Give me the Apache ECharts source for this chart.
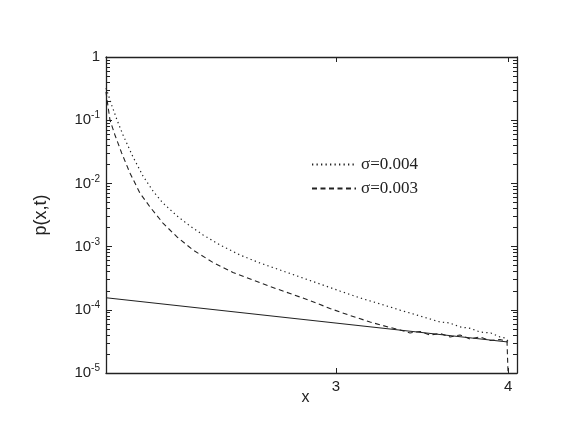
<!DOCTYPE html>
<html>
<head>
<meta charset="utf-8">
<script src="https://cdn.jsdelivr.net/npm/echarts@6/dist/echarts.min.js"></script>
<style>
  body { margin: 0; background: #fff; }
  #chart { width: 581px; height: 441px; }
</style>
</head>
<body>
<div id="chart"></div>
<script>
// sigma = 0.004 (dotted)
let dotX = [1.663, 1.698, 1.727, 1.762, 1.820, 1.878, 1.936, 1.994, 2.076, 2.151, 2.227, 2.326, 2.442, 2.558, 2.674, 2.791, 2.907, 3.023, 3.140, 3.256, 3.372, 3.488, 3.605, 3.66, 3.721, 3.78, 3.837, 3.90, 3.953, 3.98, 4.0]
let dotY = [0.323, 0.168, 0.1007, 0.0583, 0.0262, 0.0131, 0.00759, 0.00490, 0.00305, 0.00212, 0.00153, 0.00106, 7.36e-4, 5.5e-4, 4.27e-4, 3.30e-4, 2.56e-4, 1.98e-4, 1.54e-4, 1.24e-4, 9.9e-5, 7.98e-5, 6.41e-5, 6.2e-5, 5.35e-5, 5.1e-5, 4.45e-5, 4.3e-5, 3.71e-5, 3.6e-5, 3.21e-5]

// sigma = 0.003 (dashed)
let dashX = [1.663, 1.686, 1.715, 1.754, 1.802, 1.860, 1.919, 1.994, 2.076, 2.169, 2.285, 2.401, 2.517, 2.616, 2.733, 2.849, 2.965, 3.081, 3.198, 3.314, 3.372, 3.430, 3.488, 3.547, 3.605, 3.663, 3.721, 3.779, 3.837, 3.895, 3.953, 3.994, 4.0]
let dashY = [0.28, 0.1007, 0.0583, 0.0303, 0.0146, 0.00705, 0.00423, 0.00236, 0.00142, 8.83e-4, 5.6e-4, 3.9e-4, 2.95e-4, 2.34e-4, 1.81e-4, 1.40e-4, 1.05e-4, 8.13e-5, 6.41e-5, 5.25e-5, 4.79e-5, 4.30e-5, 4.54e-5, 3.99e-5, 4.22e-5, 3.72e-5, 3.99e-5, 3.45e-5, 3.72e-5, 3.27e-5, 3.39e-5, 3.15e-5, 1e-5]

// straight reference line
let solidX = [1.663, 4.0]
let solidY = [1.55e-4, 3.1e-5]

let xTicks = [3, 4]
let yMajor = [1e-5, 1e-4, 1e-3, 1e-2, 1e-1, 1]
let yMinor = []
for (let d = -5; d < 0; d++) {
  for (let m = 2; m <= 9; m++) {
    yMinor.push(m * Math.pow(10, d))
  }
}

function pairs(xs, ys) {
  return xs.map((x, i) => [x, ys[i]])
}

let ink = '#222'
let font = 'Liberation Sans'
let axisLine = { show: true, onZero: false, lineStyle: { color: ink, width: 1.3 } }
let noLabel = { show: true, formatter: () => '' }

// main log axis (frame + decade ticks)
function yMain(pos, labels) {
  return {
    type: 'log', logBase: 10, min: 1e-5, max: 1, position: pos,
    axisLine: axisLine,
    splitLine: { show: false },
    axisTick: { show: true, inside: true, length: 6, lineStyle: { color: ink } },
    axisLabel: labels ? {
      show: true,
      customValues: yMajor,
      margin: 6,
      fontFamily: font,
      fontSize: 15,
      color: ink,
      formatter: v => {
        let e = Math.round(Math.log10(v))
        return e === 0 ? '1' : '10{s|' + e + '}'
      },
      rich: {
        s: { fontSize: 10, verticalAlign: 'top', padding: [0, 0, 9, 0], fontFamily: font, color: ink }
      }
    } : noLabel
  }
}

// helper axis pushed inside the grid so its outside ticks point into the plot
function yMinorAxis(pos) {
  return {
    type: 'log', logBase: 10, min: 1e-5, max: 1, position: pos, offset: -4,
    axisLine: { show: false, onZero: false },
    splitLine: { show: false },
    axisTick: { show: true, length: 4, customValues: yMinor, lineStyle: { color: ink } },
    axisLabel: noLabel
  }
}

function xMain(pos, labels) {
  return {
    type: 'value', min: 1.663, max: 4.052, position: pos,
    axisLine: axisLine,
    splitLine: { show: false },
    axisTick: { show: false },
    axisLabel: labels ? {
      show: true, customValues: xTicks, margin: 6, fontFamily: font, fontSize: 15, color: ink
    } : noLabel,
    name: labels ? 'x' : '',
    nameLocation: 'middle',
    nameGap: 17,
    nameMoveOverlap: false,
    nameTextStyle: { fontFamily: font, fontSize: 16, color: ink, padding: [0, 12, 0, 0] }
  }
}

function xTickAxis(pos) {
  return {
    type: 'value', min: 1.663, max: 4.052, position: pos, offset: -5,
    axisLine: { show: false, onZero: false },
    splitLine: { show: false },
    axisTick: { show: true, length: 5, customValues: xTicks, lineStyle: { color: ink } },
    axisLabel: noLabel
  }
}

let leftMain = yMain('left', true)
leftMain.name = 'p(x,t)'
leftMain.nameLocation = 'middle'
leftMain.nameGap = 56
leftMain.nameTextStyle = { fontFamily: font, fontSize: 18, color: ink }

let myChart = echarts.init(document.getElementById('chart'))
let option = {
  animation: false,
  backgroundColor: '#fff',
  grid: { left: 106, top: 57, right: 64, bottom: 68 },
  legend: {
    orient: 'vertical',
    left: 306,
    top: 151,
    itemWidth: 44,
    itemHeight: 14,
    itemGap: 7,
    itemStyle: { opacity: 0 },
    textStyle: { fontFamily: 'Liberation Serif', fontSize: 17, color: ink },
    data: ['σ=0.004', 'σ=0.003']
  },
  xAxis: [xMain('bottom', true), xTickAxis('bottom'), xMain('top', false), xTickAxis('top')],
  yAxis: [leftMain, yMinorAxis('left'), yMain('right', false), yMinorAxis('right')],
  series: [
    {
      name: 'σ=0.004',
      type: 'line',
      symbol: 'none',
      data: pairs(dotX, dotY),
      itemStyle: { color: ink },
      lineStyle: { color: ink, width: 1.2, type: [1.3, 3.2] }
    },
    {
      name: 'σ=0.003',
      type: 'line',
      symbol: 'none',
      data: pairs(dashX, dashY),
      itemStyle: { color: ink },
      lineStyle: { color: ink, width: 1.1, type: [5, 3.5] }
    },
    {
      name: 'solid',
      type: 'line',
      symbol: 'none',
      data: pairs(solidX, solidY),
      itemStyle: { color: ink },
      lineStyle: { color: ink, width: 1.1, type: 'solid' }
    }
  ]
}
myChart.setOption(option)
</script>
</body>
</html>
